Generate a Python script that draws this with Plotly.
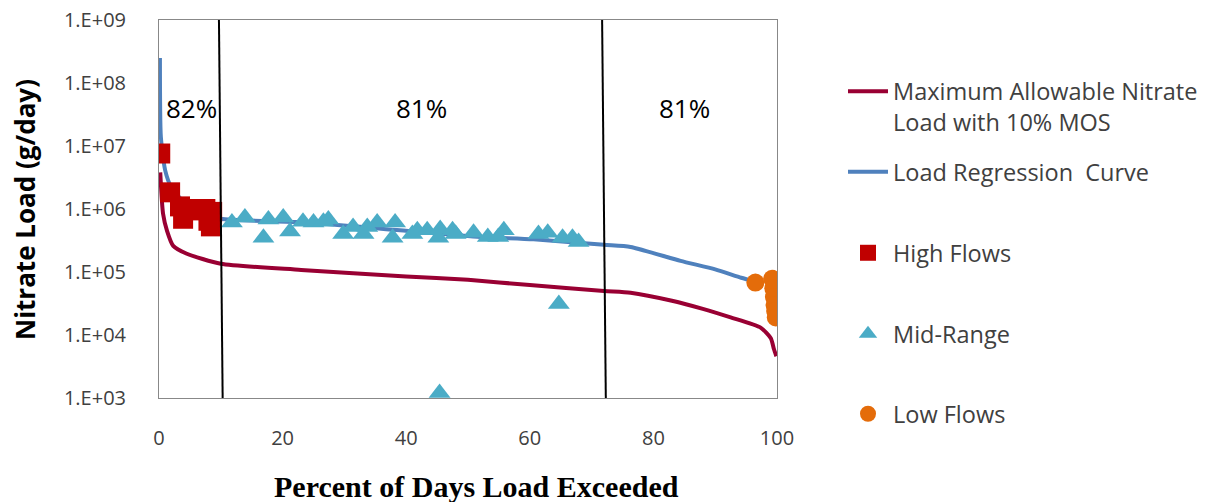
import math
import plotly.graph_objects as go

# ---------------- data ----------------
max_x = [0.2, 0.65, 1.3, 2.3, 4.5, 10, 23, 40, 50, 60, 72, 76.3, 83, 88, 92.5, 97.4, 99.0, 99.5, 99.9]
max_y = [3.8e6, 8.5e5, 4.5e5, 2.6e5, 1.95e5, 1.35e5, 1.08e5, 8.5e4, 7.5e4, 6.2e4, 5.0e4, 4.7e4, 3.5e4, 2.6e4, 1.9e4, 1.3e4, 8.9e3, 6.0e3, 4.6e3]

reg_x = [0.15, 0.3, 1.0, 2, 4, 7, 10, 22.9, 39, 52, 60.6, 72, 76.3, 84.4, 90, 94.2, 96.5]
reg_y = [2.5e8, 1.4e7, 4.1e6, 2.2e6, 1.3e6, 9e5, 7e5, 6.2e5, 4.6e5, 3.6e5, 3.3e5, 2.7e5, 2.5e5, 1.5e5, 1.1e5, 8.1e4, 7.0e4]

high_x = [0.2, 1.8, 3.4, 3.9, 4.9, 5.8, 6.7, 7.5, 8.0, 8.4, 8.6]
high_y = [7.6e6, 1.84e6, 1.1e6, 7.0e5, 1.0e6, 9.5e5, 1.0e6, 1.0e6, 6.5e5, 5.3e5, 9.0e5]

mid_x = [11.8, 13.9, 16.9, 17.7, 20.1, 21.2, 23.3, 25.0, 26.6, 27.4, 29.8, 31.4, 33.1, 33.7,
         35.3, 37.8, 38.2, 41.0, 41.8, 43.4, 45.2, 45.5, 47.5, 48.0, 50.9, 53.2, 54.9, 55.8,
         61.4, 62.9, 65.3, 66.9, 67.9, 64.7, 45.4]
mid_y = [6.1e5, 7.3e5, 3.5e5, 6.8e5, 7.3e5, 4.4e5, 6.3e5, 6.1e5, 6.3e5, 6.8e5, 4.0e5, 5.2e5, 4.0e5, 5.2e5,
         6.1e5, 3.5e5, 6.1e5, 4.0e5, 4.6e5, 4.6e5, 3.5e5, 4.8e5, 4.6e5, 4.0e5, 4.2e5, 3.6e5, 3.6e5, 4.6e5,
         4.0e5, 4.2e5, 3.5e5, 3.5e5, 3.0e5, 3.1e4, 1.2e3]

low_x = [96.5, 99.2, 99.4, 99.5, 99.6, 99.7, 99.8]
low_y = [6.8e4, 7.8e4, 5.5e4, 4.0e4, 3.0e4, 2.4e4, 1.9e4]

zone_bounds = [10, 72]           # vertical flow-zone dividers (percent)
zone_label_x = [5.3, 42.5, 85.1]
zone_labels = ["82%", "81%", "81%"]
zone_label_y = 4e7

y_tickvals = [1e3, 1e4, 1e5, 1e6, 1e7, 1e8, 1e9]
y_ticktext = ["1.E+03", "1.E+04", "1.E+05", "1.E+06", "1.E+07", "1.E+08", "1.E+09"]
x_tickvals = [0, 20, 40, 60, 80, 100]

# ---------------- figure ----------------
W, H = 1212, 502
L, T = 159, 20
PB, PR = 398, 777
B, R = H - PB, W - PR
plot_h = PB - T
plot_w = PR - L

def ly(py):
    return (PB - py) / plot_h

def lx(px):
    return (px - L) / plot_w

SANS = "Open Sans, Lato, sans-serif"
tick_font = dict(family=SANS, size=20, color="#404040")
leg_font = dict(family=SANS, size=23.5, color="#404040")

fig = go.Figure()
fig.add_trace(go.Scatter(x=max_x, y=max_y, mode="lines", name="Maximum Allowable Nitrate<br>Load with 10% MOS",
                         line=dict(color="#990033", width=4, shape="spline", smoothing=0.6), legend="legend"))
fig.add_trace(go.Scatter(x=reg_x, y=reg_y, mode="lines", name="Load Regression  Curve",
                         line=dict(color="#4F81BD", width=4, shape="spline", smoothing=0.6), legend="legend2"))
fig.add_trace(go.Scatter(x=high_x, y=high_y, mode="markers", name="High Flows",
                         marker=dict(symbol="square", size=20, color="#C00000"), legend="legend3"))
fig.add_trace(go.Scatter(x=mid_x, y=mid_y, mode="markers", name="Mid-Range",
                         marker=dict(symbol="triangle-up", size=19, color="#4BACC6"), legend="legend4"))
fig.add_trace(go.Scatter(x=low_x, y=low_y, mode="markers", name="Low Flows",
                         marker=dict(symbol="circle", size=18, color="#E46C0A"), legend="legend5"))

for xb in zone_bounds:
    fig.add_shape(type="line", xref="x", yref="paper", x0=xb - 0.3, x1=xb + 0.3, y0=1, y1=0,
                  line=dict(color="black", width=2))

for xl, tl in zip(zone_label_x, zone_labels):
    fig.add_annotation(x=xl, y=math.log10(zone_label_y), yref="y", xref="x", text=tl, showarrow=False,
                       font=dict(family=SANS, size=26, color="black"))

# axis titles
fig.add_annotation(xref="paper", yref="paper", x=lx(476), y=ly(487), xanchor="center", yanchor="middle",
                   text="<b>Percent of Days Load Exceeded</b>", showarrow=False,
                   font=dict(family="Liberation Serif, Times New Roman, serif", size=30, color="black"))
fig.add_annotation(xref="paper", yref="paper", x=lx(25), y=ly(210), xanchor="center", yanchor="middle",
                   text="<b>Nitrate Load (g/day)</b>", showarrow=False, textangle=-90,
                   font=dict(family=SANS, size=26, color="black"))

leg_x = lx(843)
common_leg = dict(x=leg_x, xanchor="left", yanchor="middle", font=leg_font, bgcolor="rgba(0,0,0,0)",
                  valign="top", itemwidth=40)
fig.update_layout(
    legend=dict(y=ly(107), **common_leg),
    legend2=dict(y=ly(172), **common_leg),
    legend3=dict(y=ly(253), **common_leg),
    legend4=dict(y=ly(334), **common_leg),
    legend5=dict(y=ly(414), **common_leg),
)

fig.update_xaxes(range=[0, 100], tickvals=x_tickvals, showgrid=False, zeroline=False,
                 showline=True, linecolor="#888888", linewidth=1, mirror=True, ticks="",
                 tickfont=tick_font, ticklabelstandoff=22, ticklabeloverflow="allow")
fig.update_yaxes(type="log", range=[3, 9], tickvals=y_tickvals, ticktext=y_ticktext, showgrid=False,
                 zeroline=False, showline=True, linecolor="#888888", linewidth=1, mirror=True, ticks="",
                 tickfont=tick_font, ticklabelstandoff=28, ticklabeloverflow="allow")
fig.update_layout(width=W, height=H, margin=dict(l=L, r=R, t=T, b=B, autoexpand=False),
                  plot_bgcolor="white", paper_bgcolor="white", showlegend=True)

fig.write_html("out.html", config={"displayModeBar": False},
               post_script="document.body.style.margin='0';document.body.style.overflow='hidden';")
